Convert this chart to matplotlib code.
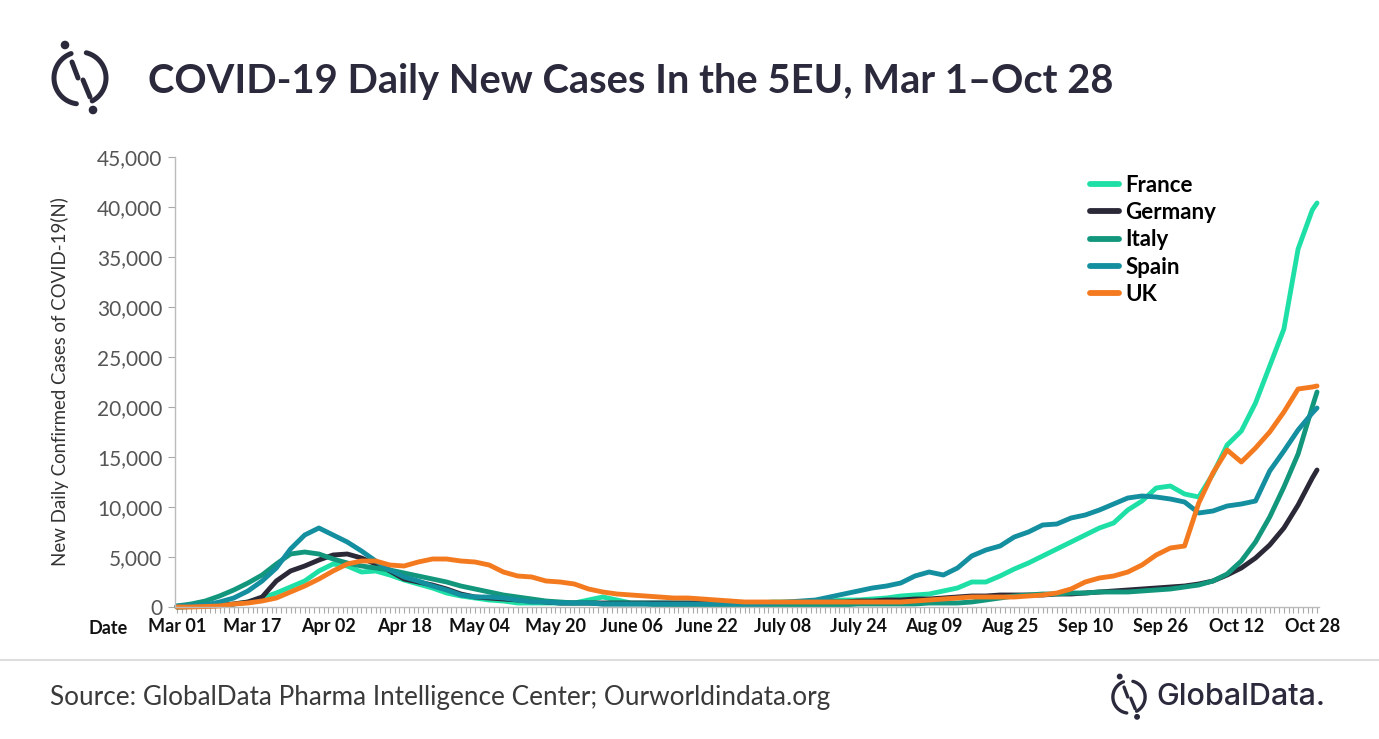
import numpy as np
import matplotlib
matplotlib.use("Agg")
import matplotlib.pyplot as plt
from matplotlib.patches import Circle

plt.rcParams['font.family'] = ['Lato', 'DejaVu Sans']

# day index from Mar 01 (0) to Oct 28 (241), sampled every 3 days + last day
days = list(range(0, 241, 3)) + [241]

france = [0, 50, 100, 200, 300, 500, 900, 1400, 2000, 2600, 3600, 4300, 4100, 3500, 3600, 3200, 2700,
          2300, 1900, 1400, 1100, 900, 700, 600, 400, 400, 400, 400, 400, 700, 1000, 700, 400, 400,
          400, 400, 400, 400, 400, 400, 400, 400, 500, 500, 500, 500, 600, 700, 700, 800, 900, 1100,
          1200, 1300, 1600, 1900, 2500, 2500, 3100, 3800, 4400, 5100, 5800, 6500, 7200, 7900, 8400,
          9700, 10600, 11900, 12100, 11300, 11000, 13300, 16200, 17600, 20400, 24100, 27800, 35800,
          39700, 40400]
germany = [0, 50, 100, 150, 300, 500, 1000, 2600, 3600, 4100, 4700, 5200, 5300, 4900, 4300, 3600, 2800,
           2500, 2200, 1800, 1300, 1000, 900, 800, 700, 600, 500, 400, 400, 400, 400, 400, 400, 400,
           400, 400, 400, 400, 400, 400, 400, 400, 400, 400, 400, 400, 500, 500, 600, 600, 700, 700,
           800, 800, 900, 1000, 1100, 1100, 1200, 1200, 1200, 1200, 1300, 1300, 1400, 1500, 1600,
           1700, 1800, 1900, 2000, 2100, 2300, 2600, 3200, 3900, 4900, 6200, 7900, 10200, 12900, 13700]
italy = [100, 300, 600, 1100, 1700, 2400, 3200, 4300, 5300, 5500, 5300, 4800, 4400, 4100, 3900, 3700,
         3400, 3100, 2800, 2500, 2100, 1800, 1500, 1200, 1000, 800, 600, 500, 400, 400, 300, 300, 300,
         300, 200, 200, 200, 200, 200, 200, 200, 200, 200, 200, 200, 200, 200, 200, 300, 300, 300, 300,
         300, 400, 400, 400, 500, 700, 900, 1100, 1200, 1300, 1300, 1400, 1400, 1500, 1500, 1500, 1600,
         1700, 1800, 2000, 2200, 2600, 3300, 4600, 6500, 9000, 12000, 15300, 20000, 21500]
spain = [100, 150, 200, 500, 900, 1600, 2600, 3900, 5800, 7200, 7900, 7200, 6500, 5600, 4600, 3700,
         3000, 2600, 2100, 1700, 1200, 1000, 1000, 900, 700, 500, 500, 400, 400, 400, 300, 300, 300,
         300, 300, 300, 300, 300, 300, 300, 300, 300, 400, 500, 600, 700, 1000, 1300, 1600, 1900, 2100,
         2400, 3100, 3500, 3200, 3900, 5100, 5700, 6100, 7000, 7500, 8200, 8300, 8900, 9200, 9700,
         10300, 10900, 11100, 11000, 10800, 10500, 9400, 9600, 10100, 10300, 10600, 13600, 15600,
         17700, 19400, 19900]
uk = [0, 0, 50, 100, 300, 400, 600, 900, 1500, 2100, 2800, 3600, 4300, 4600, 4600, 4200, 4100, 4500,
      4800, 4800, 4600, 4500, 4200, 3500, 3100, 3000, 2600, 2500, 2300, 1800, 1500, 1300, 1200, 1100,
      1000, 900, 900, 800, 700, 600, 500, 500, 500, 500, 500, 500, 500, 500, 500, 500, 500, 500, 600,
      700, 800, 900, 1000, 1000, 1000, 1000, 1100, 1200, 1400, 1800, 2500, 2900, 3100, 3500, 4200,
      5200, 5900, 6100, 10400, 13400, 15700, 14500, 15900, 17500, 19500, 21800, 22000, 22100]

countries = ['France', 'Germany', 'Italy', 'Spain', 'UK']
series = [france, germany, italy, spain, uk]
colors = ['#1EE0A6', '#2B2838', '#12977C', '#138FA0', '#F47A20']

tick_days = list(range(0, 241, 16))
tick_labels = ['Mar 01', 'Mar 17', 'Apr 02', 'Apr 18', 'May 04', 'May 20', 'June 06', 'June 22',
               'July 08', 'July 24', 'Aug 09', 'Aug 25', 'Sep 10', 'Sep 26', 'Oct 12', 'Oct 28']

W, H = 1379, 739
fig = plt.figure(figsize=(W / 100, H / 100), dpi=100)
fig.patch.set_facecolor('white')

# main axes in pixel placement
left, right, top, bottom = 175, 1319, 157, 607
ax = fig.add_axes([left / W, 1 - bottom / H, (right - left) / W, (bottom - top) / H])

for name, vals, c in zip(countries, series, colors):
    ax.plot(days, vals, color=c, lw=3.5, label=name, solid_capstyle='round',
            solid_joinstyle='round', clip_on=False)

ax.set_xlim(-0.42, 241.42)
ax.set_ylim(0, 45000)
ax.set_yticks(range(0, 45001, 5000))
ax.set_yticklabels([f'{v:,}' for v in range(0, 45001, 5000)], fontsize=15, color='#555555')
ax.set_xticks(tick_days)
ax.set_xticklabels(tick_labels, fontsize=13, fontweight='bold', color='#111111')
ax.set_xticks(range(0, 242), minor=True)
ax.tick_params(axis='x', which='both', length=4, width=0.8, color='#aaaaaa', pad=4)
ax.tick_params(axis='y', length=5, width=0.8, color='#aaaaaa', pad=4)
for s in ['top', 'right']:
    ax.spines[s].set_visible(False)
for s in ['left', 'bottom']:
    ax.spines[s].set_color('#bbbbbb')
    ax.spines[s].set_linewidth(1)
ax.set_ylabel('New Daily Confirmed Cases of COVID-19(N)', fontsize=13.4, color='#333333',
              labelpad=20)

fig.legend(loc='upper left', bbox_to_anchor=(1090 / W, 1 - 175 / H), frameon=False,
           prop={'weight': 'bold', 'size': 16}, handlelength=1.3, handletextpad=0.3,
           labelspacing=0.28, borderpad=0, borderaxespad=0)
for line in fig.legends[0].get_lines():
    line.set_linewidth(4.2)

# overlay for title, logos and footer (pixel coords)
ov = fig.add_axes([0, 0, 1, 1], zorder=-1)
ov.set_xlim(0, W)
ov.set_ylim(H, 0)
ov.axis('off')

dark = '#2B2A3C'
ov.text(148, 82, 'COVID-19 Daily New Cases In the 5EU, Mar 1\u2013Oct 28', fontsize=28.7,
        fontweight='bold', color=dark, va='center', ha='left')
ov.text(108, 628, 'Date', fontsize=13, fontweight='bold', color='#111111', ha='center', va='center')


def draw_logo(cx, cy, s, lw):
    r = 26 * s
    t = np.radians(np.linspace(110, 262, 60))
    ov.plot(cx + r * np.cos(t), cy - r * np.sin(t), color=dark, lw=lw, solid_capstyle='round')
    t = np.radians(np.linspace(-62, 76, 60))
    ov.plot(cx + r * np.cos(t), cy - r * np.sin(t), color=dark, lw=lw, solid_capstyle='round')
    ov.plot([cx - 8 * s, cx - 2 * s], [cy - 16 * s, cy], color=dark, lw=lw, solid_capstyle='round')
    ov.plot([cx + 3 * s, cx + 10 * s], [cy + 2 * s, cy + 19 * s], color=dark, lw=lw,
            solid_capstyle='round')
    ov.add_patch(Circle((cx - 15 * s, cy - 33 * s), 3.6 * s, color=dark))
    ov.add_patch(Circle((cx + 13 * s, cy + 32 * s), 3.6 * s, color=dark))


draw_logo(80, 78, 1.0, 3.6)
draw_logo(1129, 697, 0.62, 2.4)
ov.text(1156, 697, 'GlobalData.', fontsize=22, color=dark, family=['Inter', 'DejaVu Sans'],
        fontweight='medium', va='center', ha='left')

ov.plot([0, W], [660, 660], color='#dddddd', lw=1.5)
ov.text(50, 697, 'Source: GlobalData Pharma Intelligence Center; Ourworldindata.org', fontsize=18.8,
        color='#3a3a3a', va='center', ha='left')

fig.savefig('out.png', dpi=100, facecolor='white')
